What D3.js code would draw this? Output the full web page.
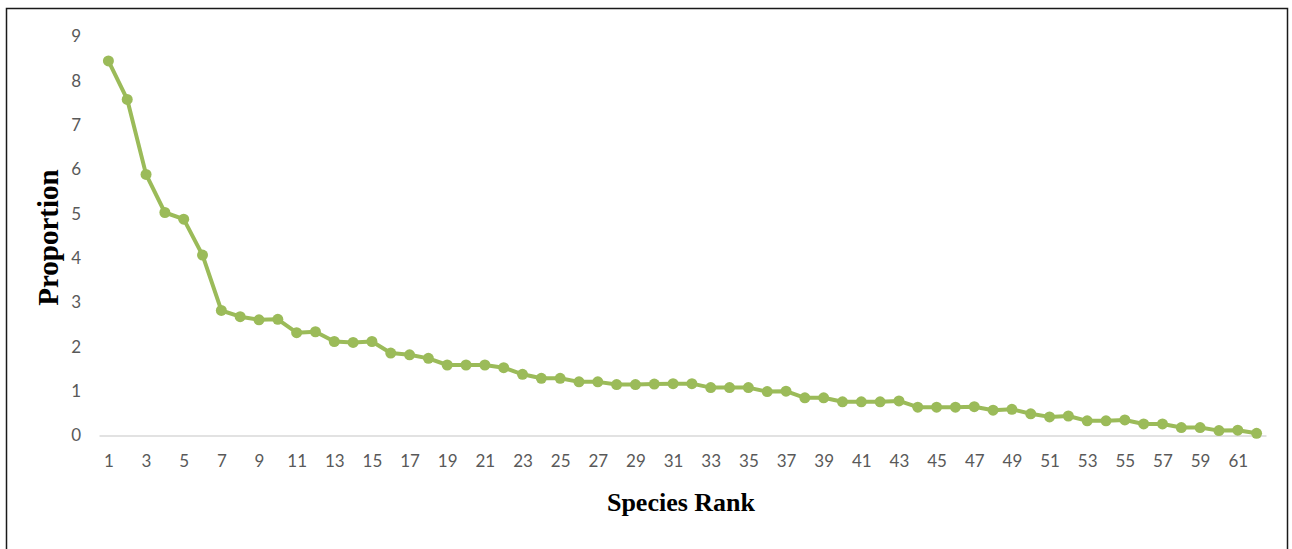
<!DOCTYPE html>
<html>
<head>
<meta charset="utf-8">
<script src="https://cdn.jsdelivr.net/npm/d3@7"></script>
<style>
  html, body { margin: 0; padding: 0; background: #fff; }
  svg { display: block; }
</style>
</head>
<body>
<svg id="chart" width="1292" height="549"></svg>
<script>
const ranks = d3.range(1, 63);
const proportions = [
  8.45, 7.58, 5.89, 5.03, 4.88, 4.07, 2.82, 2.68, 2.61, 2.62,
  2.32, 2.34, 2.12, 2.10, 2.12, 1.86, 1.82, 1.74, 1.59, 1.59,
  1.59, 1.53, 1.38, 1.29, 1.29, 1.21, 1.21, 1.15, 1.15, 1.16,
  1.17, 1.17, 1.08, 1.08, 1.08, 0.99, 1.00, 0.85, 0.85, 0.76,
  0.76, 0.76, 0.78, 0.64, 0.64, 0.64, 0.65, 0.57, 0.59, 0.49,
  0.42, 0.44, 0.33, 0.33, 0.35, 0.26, 0.26, 0.18, 0.18, 0.11,
  0.12, 0.05
];
const yTicks = [0, 1, 2, 3, 4, 5, 6, 7, 8, 9];
const xTickLabels = ranks.filter(r => r % 2 === 1);
const xTitle = "Species Rank";
const yTitle = "Proportion";

const svg = d3.select("#chart");
const green = "#9bbb59";

// frame
svg.append("rect")
  .attr("x", 6.5).attr("y", 8.5)
  .attr("width", 1281).attr("height", 560)
  .attr("fill", "none").attr("stroke", "#1a1a1a").attr("stroke-width", 1.5);

const x = d3.scalePoint().domain(ranks).range([99, 1266]).padding(0.5);
const y = d3.scaleLinear().domain([0, 9]).range([435.5, 36.5]);

// y axis labels
const yAxis = d3.axisLeft(y).tickValues(yTicks).tickSize(0).tickPadding(0);
const gy = svg.append("g").attr("transform", "translate(81,0)").call(yAxis);
gy.select(".domain").remove();
gy.selectAll("text")
  .attr("fill", "#595959")
  .style("font-family", "Lato, 'Open Sans', sans-serif")
  .style("font-size", "17px");

// x axis
const xAxis = d3.axisBottom(x)
  .tickValues(xTickLabels)
  .tickSize(0).tickPadding(19);
const gx = svg.append("g").attr("transform", `translate(0,${y(0)})`).call(xAxis);
gx.select(".domain").attr("stroke", "#d9d9d9").attr("stroke-width", 1.5);
gx.selectAll("text")
  .attr("fill", "#595959")
  .style("font-family", "Lato, 'Open Sans', sans-serif")
  .style("font-size", "17px");

// line
const line = d3.line().x((d, i) => x(ranks[i])).y(d => y(d));
svg.append("path")
  .datum(proportions)
  .attr("d", line)
  .attr("fill", "none")
  .attr("stroke", green)
  .attr("stroke-width", 4)
  .attr("stroke-linejoin", "round");

svg.append("g").selectAll("circle")
  .data(proportions)
  .join("circle")
  .attr("cx", (d, i) => x(ranks[i]))
  .attr("cy", d => y(d))
  .attr("r", 5.5)
  .attr("fill", green);

// titles
svg.append("text")
  .attr("x", 681).attr("y", 505)
  .attr("text-anchor", "middle").attr("dominant-baseline", "middle")
  .style("font-family", "'Liberation Serif', 'Times New Roman', serif")
  .style("font-weight", "bold").style("font-size", "26px")
  .attr("fill", "#000")
  .text(xTitle);

svg.append("text")
  .attr("transform", "translate(51,237.5) rotate(-90)")
  .attr("text-anchor", "middle").attr("dominant-baseline", "middle")
  .style("font-family", "'Liberation Serif', 'Times New Roman', serif")
  .style("font-weight", "bold").style("font-size", "29px")
  .attr("fill", "#000")
  .text(yTitle);
</script>
</body>
</html>
